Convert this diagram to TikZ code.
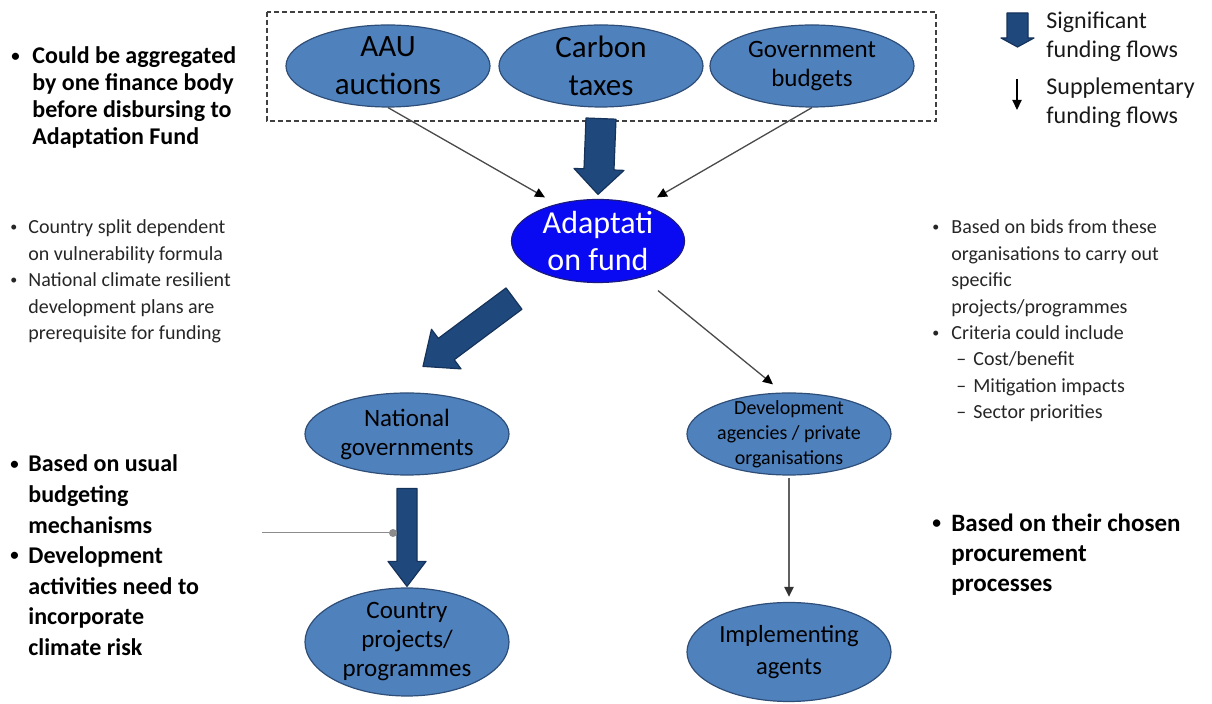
\documentclass[tikz,border=0pt]{standalone}
\usepackage{fontspec}
\setmainfont{Carlito}
\usetikzlibrary{shapes.geometric,arrows.meta,calc}

\definecolor{ovalblue}{HTML}{4F81BD}
\definecolor{ovaledge}{HTML}{2E4E78}
\definecolor{fundblue}{HTML}{0A0AF2}
\definecolor{fundedge}{HTML}{1A1A80}
\definecolor{flowblue}{HTML}{1F497D}
\definecolor{flowedge}{HTML}{15325A}
\definecolor{thingray}{HTML}{4A4A4A}

\newcommand{\ovalbig}{\fontsize{15.5}{19}\selectfont}
\newcommand{\ovalmid}{\fontsize{12.5}{14.5}\selectfont}
\newcommand{\ovalsmall}{\fontsize{10}{12.5}\selectfont}
\newcommand{\notebold}{\bfseries\fontsize{12}{13.5}\selectfont}
\newcommand{\notelarge}{\bfseries\fontsize{12}{15.3}\selectfont}
\newcommand{\notesmall}{\fontsize{10}{13.2}\selectfont}
\newcommand{\keyfont}{\fontsize{12}{14.5}\selectfont}
\newcommand{\dotmark}{\raisebox{0.12em}{\scalebox{0.7}{\textbullet}}}

% fat outline arrow: tail, tip, half shaft, half head, head length
\newcommand{\fatflow}[5]{%
  \coordinate (neck) at ($(#2)!#5!(#1)$);
  \draw[flowshape] ($(#1)!#3!90:(#2)$) -- ($(neck)!#3!90:(#2)$)
    -- ($(neck)!#4!90:(#2)$) -- (#2) -- ($(neck)!#4!-90:(#2)$)
    -- ($(neck)!#3!-90:(#2)$) -- ($(#1)!#3!-90:(#2)$) -- cycle;}

\begin{document}
\begin{tikzpicture}[x=0.5pt,y=-0.5pt,
  oval/.style={ellipse, draw=ovaledge, line width=0.6pt, fill=ovalblue,
    inner sep=0pt, minimum width=102pt, minimum height=41pt},
  ovaltext/.style={align=center, inner sep=0pt, text=black},
  fund/.style={ellipse, draw=fundedge, line width=0.6pt, fill=fundblue,
    inner sep=0pt, minimum width=86.5pt, minimum height=41.5pt},
  note/.style={inner sep=0pt, anchor=base west, text=black!85},
  flowshape/.style={fill=flowblue, draw=flowedge, line width=0.6pt, line join=round},
  thinflow/.style={draw=thingray, line width=0.65pt,
    -{Triangle[length=5pt,width=4.6pt,color=black]}},
  greyflow/.style={draw=black!62, line width=1pt,
    -{Triangle[length=5pt,width=4.6pt,color=black!80]}},
  joint/.style={circle, fill=black!45, inner sep=0pt, minimum size=4pt}]
  \useasboundingbox (0,0) rectangle (1212,704);

  % funding sources
  \draw[black!75, line width=0.75pt, dash pattern=on 2.5pt off 1.5pt] (267,12) rectangle (936,121);
  \node[oval, label={[ovaltext, font=\ovalbig]center:{AAU\\auctions}}] (aau) at (388,66) {};
  \node[oval, label={[ovaltext, font=\ovalbig]center:{Carbon\\taxes}}] (carbon) at (601,66) {};
  \node[oval, label={[ovaltext, font=\ovalmid]center:{Government\\budgets}}] (govt) at (812,66) {};

  % fund and recipients
  \node[fund, label={[ovaltext, text=white, font=\fontsize{16}{18.5}\selectfont]center:{Adaptati\\on fund}}] (fund) at (598,241) {};
  \node[oval, label={[ovaltext, font=\ovalmid]center:{National\\governments}}] (natgov) at (407,434) {};
  \node[oval, minimum height=54pt, label={[ovaltext, font=\ovalmid]center:{Country\\projects/\\programmes}}] (country) at (407,642) {};
  \node[oval, label={[ovaltext, font=\ovalsmall]center:{Development\\agencies / private\\organisations}}] (devag) at (789,434) {};
  \node[oval, minimum height=49.5pt, label={[ovaltext, font=\fontsize{12.3}{16}\selectfont]center:{Implementing\\agents}}] (impl) at (789,652) {};

  % supplementary flows
  \draw[thinflow] (aau.south) -- ($(fund.north)+(-53,-1.5)$);
  \draw[thinflow] (govt.south) -- ($(fund.north)+(59,-1.5)$);
  \draw[thinflow] ($(fund.south)+(60,7.5)$) -- ($(devag.north)+(-16,-8)$);
  \draw[greyflow] ($(devag.south)+(0,2)$) -- ($(impl.north)+(0,-5)$);

  % significant flows
  \fatflow{$(carbon.south)+(0,11)$}{$(fund.north)+(0,-4.5)$}{7.5pt}{12.5pt}{12.5pt}
  \fatflow{$(fund.south)+(-84,15.5)$}{$(natgov.north)+(16,-26)$}{6.65pt}{12.35pt}{14.5pt}
  \fatflow{$(natgov.south)+(0,13)$}{$(country.north)+(0,-1)$}{5pt}{9.5pt}{12.5pt}

  % pointer to the budgeting note
  \coordinate (tick) at (262,533);
  \node[joint] (knot) at (393,533) {};
  \draw[black!45, line width=0.5pt] (tick) -- (knot);

  % legend
  \coordinate (keytail) at (1017.5,13);
  \coordinate (keytip) at (1017.5,47);
  \fatflow{keytail}{keytip}{5.25pt}{8.25pt}{4.5pt}
  \coordinate (keytop) at (1017,79);
  \coordinate (keyend) at (1017,110);
  \draw[thinflow, draw=black] (keytop) -- (keyend);
  \node[note, font=\keyfont, text=black!90] (keysig) at (1046,29)
    {\begin{tabular}[t]{@{}l@{}}Significant\\funding flows\end{tabular}};
  \node[note, font=\keyfont, text=black!90] (keysup) at (1046,95)
    {\begin{tabular}[t]{@{}l@{}}Supplementary\\funding flows\end{tabular}};

  % notes
  \node[note, font=\notebold, text=black] (aggnote) at (11,64)
    {\begin{tabular}[t]{@{}p{10.5pt}@{}l@{}}
      \dotmark & Could be aggregated\\
      & by one finance body\\
      & before disbursing to\\
      & Adaptation Fund
    \end{tabular}};
  \node[note, font=\notesmall] (splitnote) at (10,234)
    {\begin{tabular}[t]{@{}p{9pt}@{}l@{}}
      \dotmark & Country split dependent\\
      & on vulnerability formula\\
      \dotmark & National climate resilient\\
      & development plans are\\
      & prerequisite for funding
    \end{tabular}};
  \node[note, font=\notelarge, text=black] (budgnote) at (10,472)
    {\begin{tabular}[t]{@{}p{9pt}@{}l@{}}
      \dotmark & Based on usual\\
      & budgeting\\
      & mechanisms\\
      \dotmark & Development\\
      & activities need to\\
      & incorporate\\
      & climate risk
    \end{tabular}};
  \node[note, font=\notesmall] (bidnote) at (932,234)
    {\begin{tabular}[t]{@{}p{9.5pt}@{}l@{}}
      \dotmark & Based on bids from these\\
      & organisations to carry out\\
      & specific\\
      & projects/programmes\\
      \dotmark & Criteria could include\\
      & \makebox[11pt][l]{\hspace{2.5pt}--}Cost/benefit\\
      & \makebox[11pt][l]{\hspace{2.5pt}--}Mitigation impacts\\
      & \makebox[11pt][l]{\hspace{2.5pt}--}Sector priorities
    \end{tabular}};
  \node[note, font=\fontsize{12.5}{15}\selectfont\bfseries, text=black] (procnote) at (932,532)
    {\begin{tabular}[t]{@{}p{9.5pt}@{}l@{}}
      \dotmark & Based on their chosen\\
      & procurement\\
      & processes
    \end{tabular}};
\end{tikzpicture}
\end{document}
